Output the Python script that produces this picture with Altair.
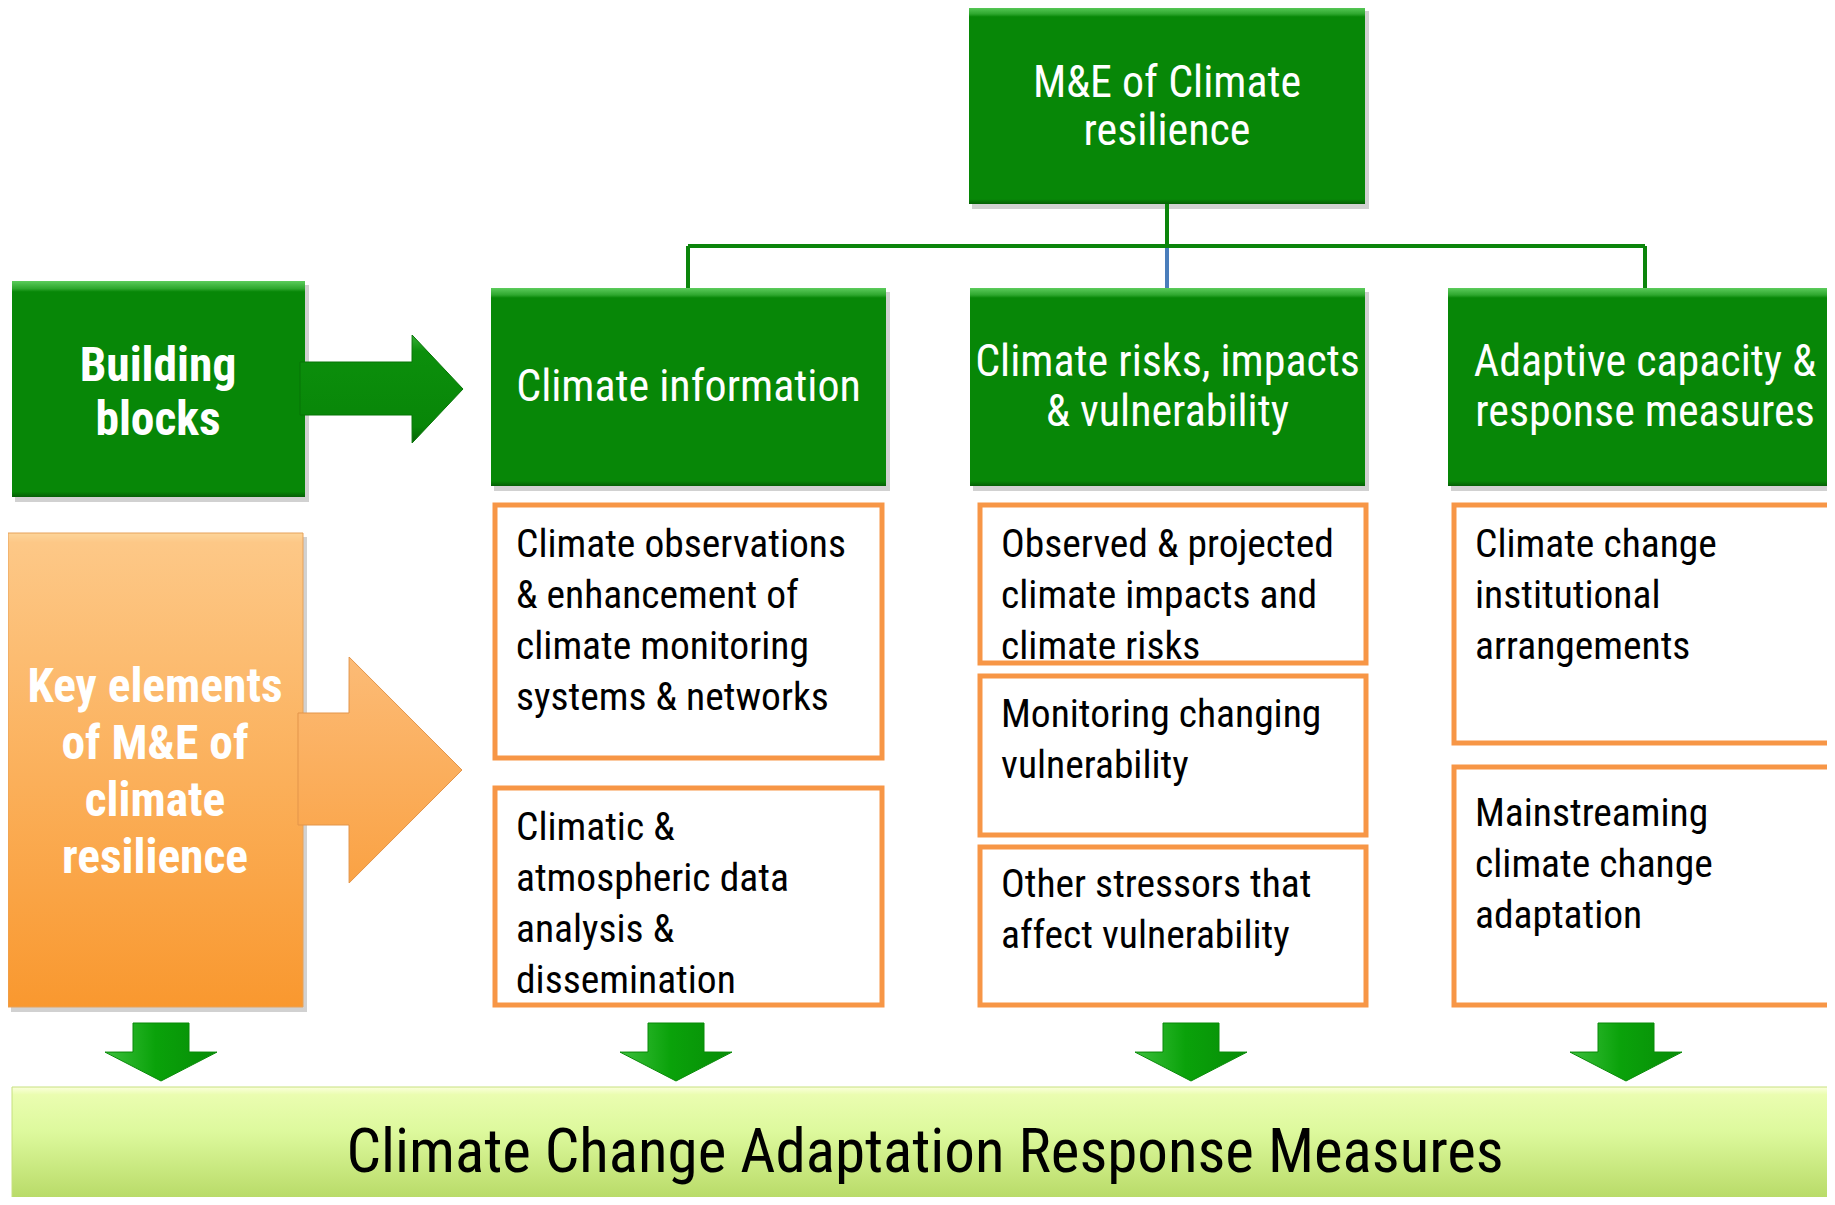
import altair as alt
import pandas as pd

# ---------------- text content ----------------
top_label = ["M&E of Climate", "resilience"]
header_labels = [
    ["Climate information"],
    ["Climate risks, impacts", "& vulnerability"],
    ["Adaptive capacity &", "response measures"],
]
side_labels = [["Building", "blocks"], ["Key elements", "of M&E of", "climate", "resilience"]]
element_labels = [
    [["Climate observations", "& enhancement of", "climate monitoring", "systems & networks"],
     ["Climatic &", "atmospheric data", "analysis &", "dissemination"]],
    [["Observed & projected", "climate impacts and", "climate risks"],
     ["Monitoring changing", "vulnerability"],
     ["Other stressors that", "affect vulnerability"]],
    [["Climate change", "institutional", "arrangements"],
     ["Mainstreaming", "climate change", "adaptation"]],
]
bottom_label = "Climate Change Adaptation Response Measures"

# ---------------- layout (reference pixel coordinates) ----------------
top_box = (969, 1365, 7, 204)
header_x = [(491, 886), (970, 1365), (1448, 1845)]
header_y = (288, 486)
building_box = (12, 305, 281, 497)
key_box = (8, 303, 533, 1007)
element_boxes = [
    [(495, 882, 505, 758), (495, 882, 788, 1005)],
    [(980, 1366, 505, 663), (980, 1366, 676, 835), (980, 1366, 847, 1005)],
    [(1454, 1850, 505, 743), (1454, 1850, 767, 1005)],
]
element_text_x = [516, 1001, 1475]
element_first_baseline = [[557, 840], [557, 727, 897], [557, 826]]
element_line_step = 51
header_baselines = [[401], [376, 426], [376, 426]]
top_baselines = [97, 145]
side_centers = [158, 155]
side_baselines = [[381, 435], [702, 759, 816, 873]]
bottom_bar = (12, 1850, 1087, 1215)
bottom_text_pos = (925, 1172)
down_arrow_centers = [161, 676, 1191, 1626]

FONT = "Roboto Condensed, Liberation Sans Narrow, Liberation Sans, sans-serif"
GREEN = "#078707"
ORANGE_LINE = "#f79646"

xs = alt.Scale(domain=[8, 1827], nice=False, zero=False)
ys = alt.Scale(domain=[8, 1197], nice=False, zero=False, reverse=True)


def X(f="x"):
    return alt.X(f"{f}:Q", scale=xs, axis=None)


def Y(f="y"):
    return alt.Y(f"{f}:Q", scale=ys, axis=None)


def vgrad(stops):
    return {"gradient": "linear", "x1": 0, "y1": 0, "x2": 0, "y2": 1,
            "stops": [{"offset": o, "color": c} for o, c in stops]}


def hgrad(stops):
    return {"gradient": "linear", "x1": 0, "y1": 0, "x2": 1, "y2": 0,
            "stops": [{"offset": o, "color": c} for o, c in stops]}


def rect_df(boxes):
    return pd.DataFrame([{"x": a, "x2": b, "y": c, "y2": d} for a, b, c, d in boxes])


def rect_layer(boxes, **mark):
    return alt.Chart(rect_df(boxes)).mark_rect(clip=True, **mark).encode(
        x=X(), x2="x2:Q", y=Y(), y2="y2:Q")


# ---------------- boxes ----------------
green_boxes = [top_box, building_box] + [(a, b, header_y[0], header_y[1]) for a, b in header_x]
shadow_boxes = [(a + 3, b + 4, c + 4, d + 5) for a, b, c, d in green_boxes + [key_box]]

shadows = rect_layer(shadow_boxes, color="#000000", opacity=0.18)
green = rect_layer(green_boxes, fill=vgrad([(0, "#5ccc5c"), (0.035, "#2ea72e"), (0.05, GREEN),
                                             (0.975, GREEN), (1, "#055f05")]))
orange_big = rect_layer([key_box], fill=vgrad([(0, "#fdd59a"), (0.02, "#fdc887"), (1, "#f9982f")]),
                        stroke="#e7a25a", strokeWidth=1)
all_elements = [b for col in element_boxes for b in col]
element_rects = rect_layer(all_elements, fill="white", stroke=ORANGE_LINE, strokeWidth=5)
bar = rect_layer([bottom_bar], fill=vgrad([(0, "#fbffdc"), (0.06, "#eafdb0"), (0.35, "#ddf99d"),
                                            (1, "#afd35a")]),
                 stroke="#c6e07e", strokeWidth=1)

# ---------------- connector lines ----------------
cx_mid = (top_box[0] + top_box[1]) / 2
hy = 246
conn = pd.DataFrame([
    {"x": cx_mid, "x2": cx_mid, "y": top_box[3], "y2": hy, "c": "g"},
    {"x": 688, "x2": 1645, "y": hy, "y2": hy, "c": "g"},
    {"x": 688, "x2": 688, "y": hy, "y2": header_y[0], "c": "g"},
    {"x": 1645, "x2": 1645, "y": hy, "y2": header_y[0], "c": "g"},
    {"x": cx_mid, "x2": cx_mid, "y": hy + 2, "y2": header_y[0], "c": "b"},
])
rules = alt.Chart(conn).mark_rule(strokeWidth=4).encode(
    x=X(), x2="x2:Q", y=Y(), y2="y2:Q",
    color=alt.Color("c:N", scale=alt.Scale(domain=["g", "b"], range=["#0b850b", "#4a7ebb"]), legend=None))

# ---------------- arrows ----------------
def right_arrow(shaft_x0, head_x, tip_x, sy0, sy1, hy0, hy1):
    tip_y = (hy0 + hy1) / 2
    return pd.DataFrame([
        {"x": shaft_x0, "y": sy0, "y2": sy1},
        {"x": head_x, "y": sy0, "y2": sy1},
        {"x": head_x + 0.1, "y": hy0, "y2": hy1},
        {"x": tip_x, "y": tip_y, "y2": tip_y},
    ])


g_arrow = alt.Chart(right_arrow(300, 412, 463, 362, 415, 335, 443)).mark_area(
    orient="vertical", fill=vgrad([(0, "#36b036"), (0.15, "#0c8f0c"), (0.85, "#088608"), (1, "#056005")]),
    stroke="#077507", strokeWidth=1).encode(x=X(), y=Y(), y2="y2:Q")
o_arrow = alt.Chart(right_arrow(298, 349, 462, 713, 825, 657, 883)).mark_area(
    orient="vertical", fill=vgrad([(0, "#fcbb76"), (1, "#faa244")]),
    stroke="#e3954a", strokeWidth=1).encode(x=X(), y=Y(), y2="y2:Q")

down_rows = []
for i, c in enumerate(down_arrow_centers):
    down_rows += [
        {"id": i, "y": 1023, "x": c - 28, "x2": c + 28},
        {"id": i, "y": 1052, "x": c - 28, "x2": c + 28},
        {"id": i, "y": 1052.1, "x": c - 56, "x2": c + 56},
        {"id": i, "y": 1081, "x": c, "x2": c},
    ]
down = alt.Chart(pd.DataFrame(down_rows)).mark_area(
    orient="horizontal", fill=hgrad([(0, "#3cc03c"), (0.45, "#0aa20a"), (1, "#078d07")]),
    stroke="#088a08", strokeWidth=1).encode(x=X(), x2="x2:Q", y=Y(), detail="id:N")

# ---------------- text ----------------
def text_layer(rows, size, color, align, weight="normal"):
    return alt.Chart(pd.DataFrame(rows)).mark_text(
        font=FONT, fontSize=size, color=color, align=align, baseline="alphabetic",
        fontWeight=weight).encode(x=X(), y=Y(), text="t:N")


hdr_rows = []
for (a, b), lines, bls in zip(header_x, header_labels, header_baselines):
    for ln, bl in zip(lines, bls):
        hdr_rows.append({"x": (a + min(b, 1842)) / 2, "y": bl, "t": ln})
for ln, bl in zip(top_label, top_baselines):
    hdr_rows.append({"x": cx_mid, "y": bl, "t": ln})
hdr_text = text_layer(hdr_rows, 44, "white", "center")

side_rows = []
for cx, lines, bls in zip(side_centers, side_labels, side_baselines):
    for ln, bl in zip(lines, bls):
        side_rows.append({"x": cx, "y": bl, "t": ln})
side_text = text_layer(side_rows, 47.5, "white", "center", "bold")

el_rows = []
for col, (tx, boxes_lines, firsts) in enumerate(zip(element_text_x, element_labels, element_first_baseline)):
    for lines, fb in zip(boxes_lines, firsts):
        for k, ln in enumerate(lines):
            el_rows.append({"x": tx, "y": fb + k * element_line_step, "t": ln})
el_text = text_layer(el_rows, 39.5, "black", "left")

bottom_text = text_layer([{"x": bottom_text_pos[0], "y": bottom_text_pos[1], "t": bottom_label}],
                         61, "black", "center")

chart = alt.layer(
    shadows, rules, green, orange_big, element_rects, bar, g_arrow, o_arrow, down,
    hdr_text, side_text, el_text, bottom_text,
).properties(
    width=1819, height=1189, padding=0, background="white",
    autosize=alt.AutoSizeParams(type="none"),
).configure_view(strokeWidth=0)

chart.save("out.html", embed_options={"renderer": "svg", "actions": False})
